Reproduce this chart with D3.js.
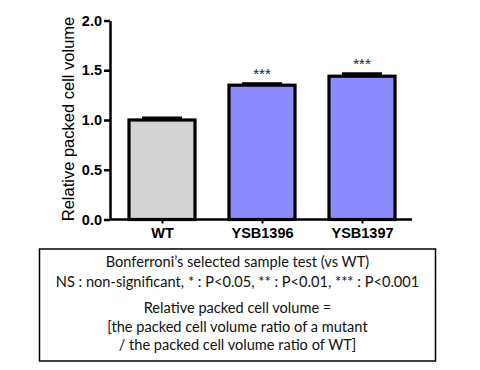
<!DOCTYPE html>
<html>
<head>
<meta charset="utf-8">
<script src="https://cdn.jsdelivr.net/npm/d3@7"></script>
<style>
  body { margin: 0; background: #fff; }
  svg { display: block; }
</style>
</head>
<body>
<svg id="chart" width="480" height="370"></svg>
<script>
// data
const strains = ["WT", "YSB1396", "YSB1397"];
const pcv = [1.00, 1.35, 1.44];
const sem = [0.02, 0.015, 0.025];
const stars = ["", "***", "***"];
const yTicks = [0, 0.5, 1.0, 1.5, 2.0];
const noteLines = [
  "Bonferroni\u2019s selected sample test (vs WT)",
  "NS : non-significant, * : P<0.05, ** : P<0.01, *** : P<0.001",
  "Relative packed cell volume =",
  "[the packed cell volume ratio of a mutant",
  "/ the packed cell volume ratio of WT]"
];

const svg = d3.select("#chart");
const arial = "'Liberation Sans', Arial, sans-serif";

const x = d3.scalePoint().domain(strains).range([112, 412]).padding(0.5);
const y = d3.scaleLinear().domain([0, 2]).range([219.5, 20.5]);
const barW = 66;

// bars
svg.append("g").selectAll("rect")
  .data(strains)
  .enter().append("rect")
  .attr("x", d => x(d) - barW / 2)
  .attr("y", (d, i) => y(pcv[i]))
  .attr("width", barW)
  .attr("height", (d, i) => y(0) - y(pcv[i]))
  .style("fill", (d, i) => i === 0 ? "#d3d3d3" : "#8c8cff")
  .style("stroke", "#000")
  .style("stroke-width", 3.2);

// error bars (upper only)
const err = svg.append("g");
strains.forEach((d, i) => {
  err.append("line")
    .attr("x1", x(d)).attr("x2", x(d))
    .attr("y1", y(pcv[i])).attr("y2", y(pcv[i] + sem[i]))
    .style("stroke", "#000").style("stroke-width", 2.5);
  err.append("line")
    .attr("x1", x(d) - 20).attr("x2", x(d) + 20)
    .attr("y1", y(pcv[i] + sem[i])).attr("y2", y(pcv[i] + sem[i]))
    .style("stroke", "#000").style("stroke-width", 3);
});

// significance stars
svg.append("g").selectAll("text")
  .data(strains)
  .enter().append("text")
  .attr("x", d => x(d))
  .attr("y", (d, i) => y(pcv[i] + sem[i]) - 5)
  .attr("text-anchor", "middle")
  .style("font-family", arial)
  .style("font-size", "15px")
  .style("fill", "#222")
  .text((d, i) => stars[i]);

// y axis
const yAxis = svg.append("g")
  .attr("transform", "translate(110,0)")
  .call(d3.axisLeft(y).tickValues(yTicks).tickFormat(d3.format(".1f")).tickSize(6).tickSizeOuter(0));
yAxis.select(".domain").style("stroke-width", 2.5);
yAxis.selectAll(".tick line").style("stroke-width", 2.5);
yAxis.selectAll(".tick text")
  .attr("x", -8)
  .style("font-family", arial)
  .style("font-size", "14.5px")
  .style("font-weight", "bold")
  .style("fill", "#000");

// x axis
const xAxis = svg.append("g")
  .attr("transform", "translate(0," + y(0) + ")")
  .call(d3.axisBottom(x).tickSize(4).tickSizeOuter(0));
xAxis.select(".domain").attr("d", "M110,0H412").style("stroke-width", 2.5);
xAxis.selectAll(".tick line").style("stroke-width", 2);
xAxis.selectAll(".tick text")
  .attr("y", 8)
  .style("font-family", arial)
  .style("font-size", "14.5px")
  .style("font-weight", "bold")
  .style("fill", "#000");

// y label
svg.append("text")
  .attr("transform", "translate(74,119) rotate(-90)")
  .attr("text-anchor", "middle")
  .style("font-family", arial)
  .style("font-size", "16.5px")
  .text("Relative packed cell volume");

// note box
svg.append("rect")
  .attr("x", 39.5).attr("y", 249)
  .attr("width", 396).attr("height", 112)
  .style("fill", "none").style("stroke", "#000").style("stroke-width", 1.5);

const lineY = [267, 287, 313, 332, 350];
svg.append("g").selectAll("text")
  .data(noteLines)
  .enter().append("text")
  .attr("x", 237.5)
  .attr("y", (d, i) => lineY[i])
  .attr("text-anchor", "middle")
  .style("font-family", "Lato, 'Open Sans', sans-serif")
  .style("font-size", "14.6px")
  .style("fill", "#111")
  .text(d => d);
</script>
</body>
</html>
